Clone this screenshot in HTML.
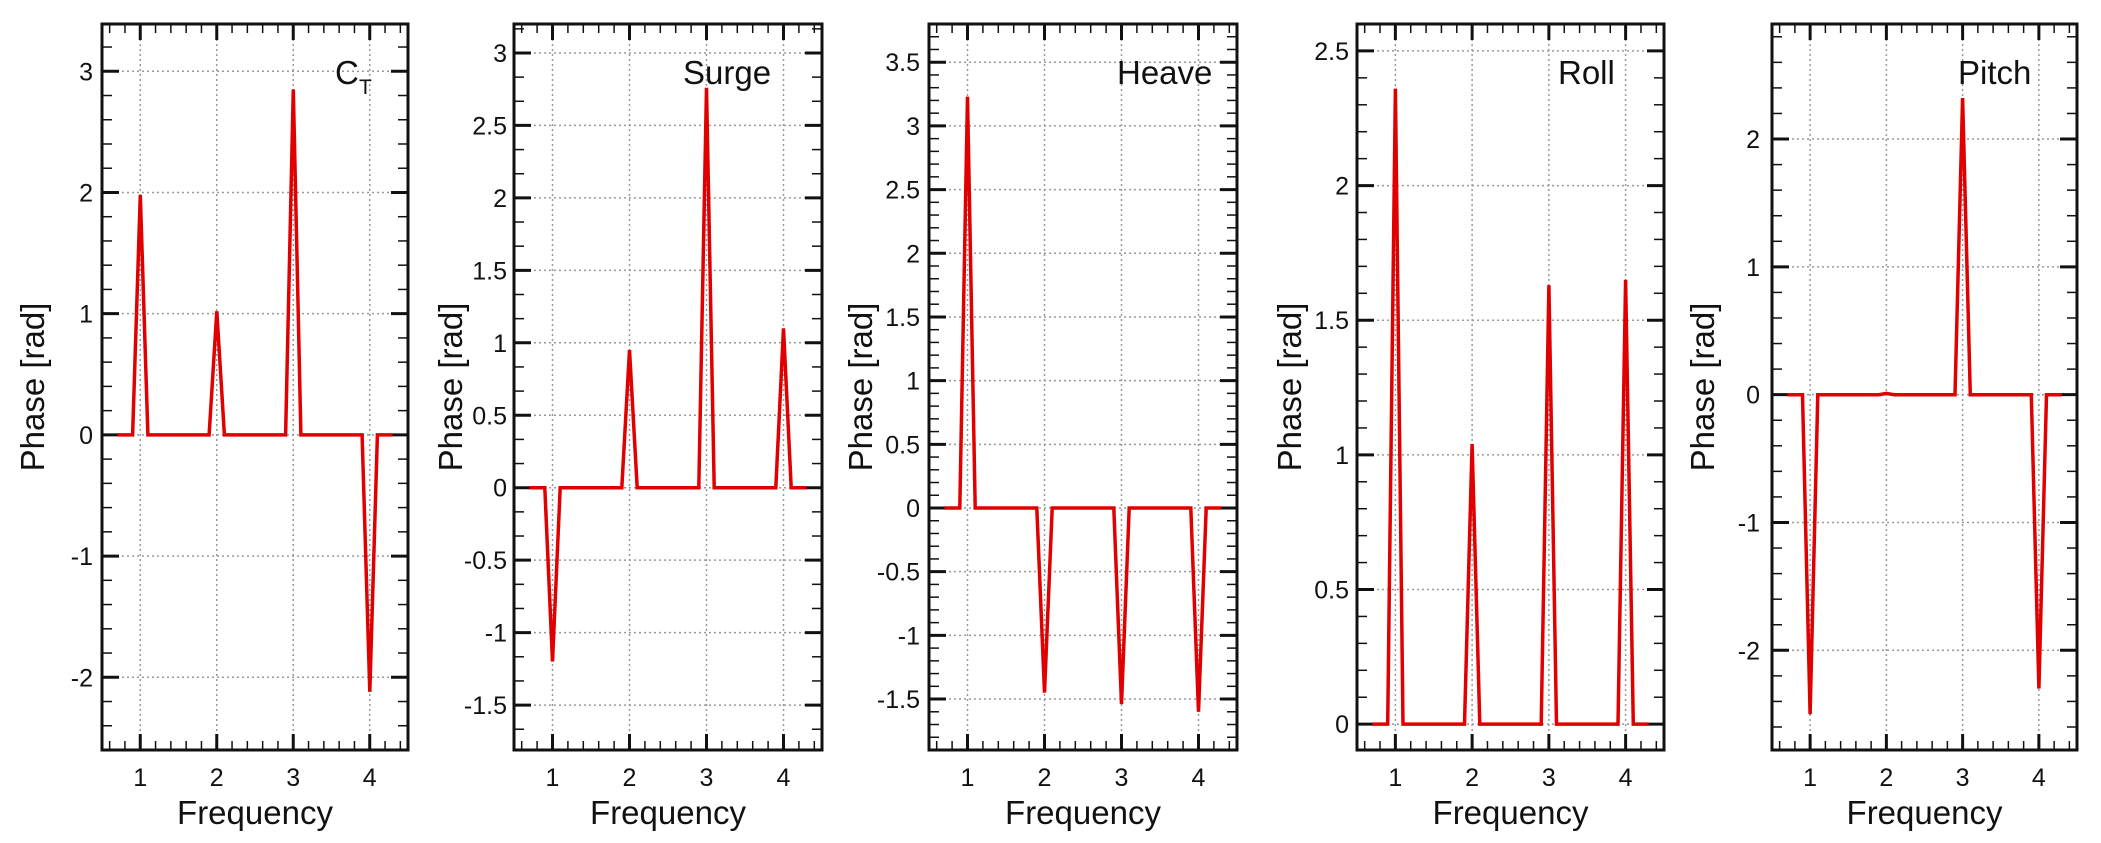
<!DOCTYPE html>
<html><head><meta charset="utf-8"><style>
html,body{margin:0;padding:0;background:#fff;}
svg{display:block;}
text{font-family:"Liberation Sans",Arial,sans-serif;fill:#111;}
</style></head><body>
<svg id="s" width="2101" height="843" viewBox="0 0 2101 843" xmlns="http://www.w3.org/2000/svg"></svg>
<script>
const P=[
 {b:[102,24,408,750],y0:-2.60,y1:3.39,maj:1,lo:-2,hi:3,min:0.2,pk:[1.98,1.02,2.85,-2.12],lx:93,px:44,title:'CT',tx:335},
 {b:[514,24,822,750],y0:-1.81,y1:3.2,maj:0.5,lo:-1.5,hi:3,min:1/6,pk:[-1.2,0.95,2.76,1.1],lx:507,px:462,title:'Surge',tx:683},
 {b:[929,24,1237,750],y0:-1.90,y1:3.80,maj:0.5,lo:-1.5,hi:3.5,min:0.1,pk:[3.23,-1.45,-1.54,-1.6],lx:920,px:872,title:'Heave',tx:1117},
 {b:[1357,24,1664,750],y0:-0.096,y1:2.6,maj:0.5,lo:0,hi:2.5,min:0.1,pk:[2.36,1.04,1.63,1.65],lx:1349,px:1301,title:'Roll',tx:1558},
 {b:[1772,24,2077,750],y0:-2.78,y1:2.9,maj:1,lo:-2,hi:2,min:0.2,pk:[-2.5,0.01,2.32,-2.3],lx:1760,px:1714,title:'Pitch',tx:1958}
];
let h='';
for(const p of P){
 const [L,T,R,B]=p.b;
 const X=v=>L+(v-0.5)/4*(R-L);
 const Y=v=>B-(v-p.y0)/(p.y1-p.y0)*(B-T);
 for(let i=1;i<=4;i++) h+=`<line x1="${X(i)}" y1="${T}" x2="${X(i)}" y2="${B}" stroke="#999" stroke-width="1.5" stroke-dasharray="2,3"/>`;
 for(let v=p.lo;v<=p.hi+1e-9;v+=p.maj) h+=`<line x1="${L}" y1="${Y(v)}" x2="${R}" y2="${Y(v)}" stroke="#999" stroke-width="1.5" stroke-dasharray="2,3"/>`;
 for(let v=0.6;v<4.5-1e-9;v+=0.2){
  const maj=Math.abs(v-Math.round(v))<1e-6;const l=maj?16:9;const x=X(v);
  h+=`<line x1="${x}" y1="${T}" x2="${x}" y2="${T+l}" stroke="#111" stroke-width="${maj?3:1.5}"/><line x1="${x}" y1="${B}" x2="${x}" y2="${B-l}" stroke="#111" stroke-width="${maj?3:1.5}"/>`;
  if(maj) h+=`<text x="${x}" y="786" text-anchor="middle" font-size="25">${Math.round(v)}</text>`;
 }
 const start=Math.ceil((p.y0+1e-9)/p.min)*p.min;
 for(let v=start;v<p.y1-1e-9;v+=p.min){
  const r=v/p.maj;const maj=Math.abs(r-Math.round(r))<1e-4;const l=maj?17:10;const y=Y(v);
  h+=`<line x1="${L}" y1="${y}" x2="${L+l}" y2="${y}" stroke="#111" stroke-width="${maj?3:1.5}"/><line x1="${R}" y1="${y}" x2="${R-l}" y2="${y}" stroke="#111" stroke-width="${maj?3:1.5}"/>`;
  if(maj){const vv=Math.round(v*10)/10;h+=`<text x="${p.lx}" y="${y+9}" text-anchor="end" font-size="25">${vv}</text>`;}
 }
 let pts=[];
 for(let i=7;i<=43;i++){const f=i/10;let v=0;if(i%10===0)v=p.pk[i/10-1];pts.push(X(f).toFixed(1)+','+Y(v).toFixed(1));}
 h+=`<polyline points="${pts.join(' ')}" fill="none" stroke="#e00000" stroke-width="3.5" stroke-linejoin="miter"/>`;
 h+=`<rect x="${L}" y="${T}" width="${R-L}" height="${B-T}" fill="none" stroke="#111" stroke-width="3"/>`;
 h+=`<text x="${(L+R)/2}" y="824" text-anchor="middle" font-size="33">Frequency</text>`;
 h+=`<text transform="translate(${p.px},${(T+B)/2}) rotate(-90)" text-anchor="middle" font-size="33">Phase [rad]</text>`;
 if(p.title==='CT') h+=`<text x="${p.tx}" y="84" font-size="33">C</text><text x="${p.tx+24}" y="94" font-size="21">T</text>`;
 else h+=`<text x="${p.tx}" y="84" font-size="33">${p.title}</text>`;
}
document.getElementById('s').innerHTML=h;
</script>
</body></html>
